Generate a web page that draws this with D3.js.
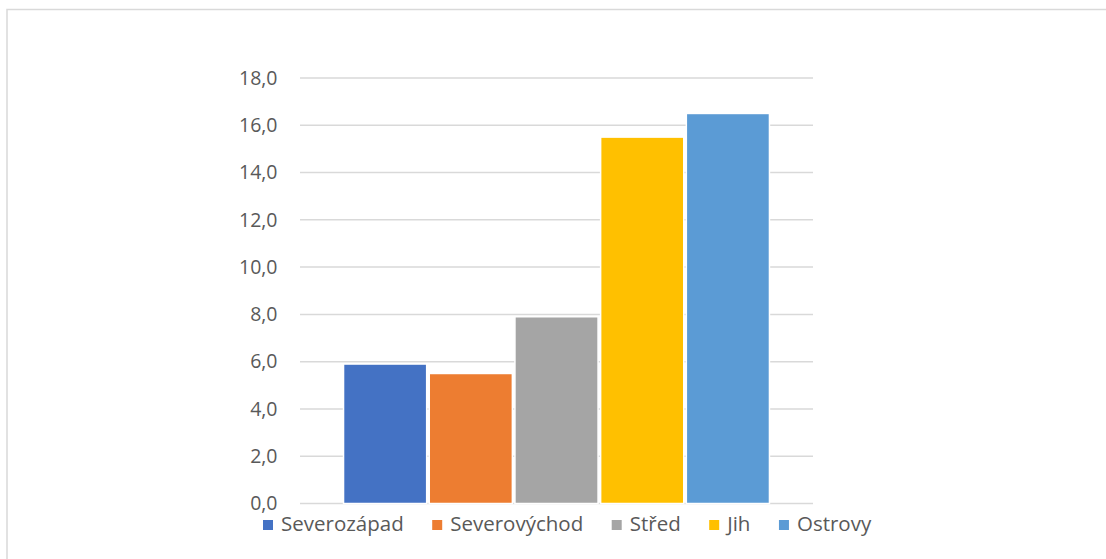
<!DOCTYPE html>
<html>
<head>
<meta charset="utf-8">
<script src="https://cdn.jsdelivr.net/npm/d3@7"></script>
<style>
  body { margin: 0; background: #fff; }
  svg { display: block; font-family: "Open Sans", sans-serif; }
</style>
</head>
<body>
<svg width="1106" height="559"></svg>
<script>
// one category, five regions as series
let regions = ["Severozápad", "Severovýchod", "Střed", "Jih", "Ostrovy"];
let values = [5.9, 5.5, 7.9, 15.5, 16.5];
let colors = ["#4472c4", "#ed7d31", "#a5a5a5", "#ffc000", "#5b9bd5"];
let yTicks = [0, 2, 4, 6, 8, 10, 12, 14, 16, 18];

let svg = d3.select("svg");

// chart frame (cropped at right and bottom)
svg.append("rect")
    .attr("x", 7).attr("y", 9.5)
    .attr("width", 1200).attr("height", 600)
    .attr("fill", "none").attr("stroke", "#d9d9d9").attr("stroke-width", 1.5);

let plotLeft = 300, plotRight = 813;

let y = d3.scaleLinear().domain([0, 18]).range([503.5, 78]);
let x = d3.scaleBand().domain(regions).range([plotLeft, plotRight])
    .paddingInner(0.03).paddingOuter(0.508);

let fmt = d => d.toFixed(1).replace(".", ",");

// gridlines
svg.append("g").selectAll("line").data(yTicks).enter().append("line")
    .attr("x1", plotLeft).attr("x2", plotRight)
    .attr("y1", d => y(d)).attr("y2", d => y(d))
    .attr("stroke", "#d9d9d9").attr("stroke-width", 1.5);

// y axis labels
let yAxis = d3.axisLeft(y).tickValues(yTicks).tickFormat(fmt).tickSize(0).tickPadding(0);
let ag = svg.append("g").attr("transform", "translate(277.5,0)").call(yAxis);
ag.select(".domain").remove();
ag.selectAll("text")
    .attr("fill", "#595959")
    .style("font-size", "19.5px")
    .style("font-family", "'Open Sans', sans-serif");

// bars
svg.append("g").selectAll("rect").data(regions).enter().append("rect")
    .attr("x", d => x(d))
    .attr("width", x.bandwidth())
    .attr("y", (d, i) => y(values[i]))
    .attr("height", (d, i) => y(0) - y(values[i]))
    .attr("fill", (d, i) => colors[i])
    .attr("stroke", "#fff").attr("stroke-width", 1.5);

// legend
let legend = svg.append("g");
let lx = 263;
regions.forEach(function(r, i){
    legend.append("rect")
        .attr("x", lx).attr("y", 520)
        .attr("width", 10).attr("height", 10)
        .attr("fill", colors[i]);
    let t = legend.append("text")
        .attr("x", lx + 18).attr("y", 530.5)
        .attr("fill", "#595959")
        .style("font-size", "20.5px")
        .text(r);
    lx = lx + 18 + t.node().getComputedTextLength() + 28.5;
});
</script>
</body>
</html>
